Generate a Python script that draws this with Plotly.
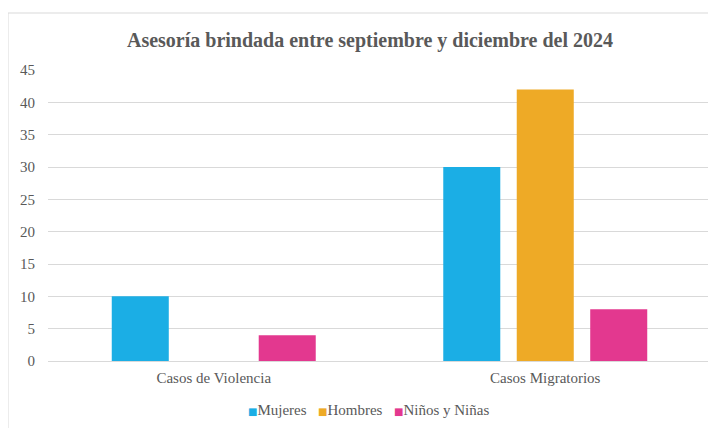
import plotly.graph_objects as go

categories = ["Casos de Violencia", "Casos Migratorios"]
series_names = ["Mujeres", "Hombres", "Niños y Niñas"]
mujeres = [10, 30]
hombres = [0, 42]
ninos = [4, 8]
colors = ["#1BAEE5", "#EEAA26", "#E3388F"]
title_text = "Asesoría brindada entre septiembre y diciembre del 2024"

FONT = "Liberation Serif"
OFF = 8  # browser default body margin
L, T, R_EDGE, B_EDGE = 48 - OFF, 70 - OFF, 711 - OFF, 361 - OFF
W, H = 716, 428
PW, PH = R_EDGE - L, B_EDGE - T

fig = go.Figure()
for name, vals, col in zip(series_names, [mujeres, hombres, ninos], colors):
    fig.add_trace(go.Bar(x=categories, y=vals, name=name, marker_color=col,
                         marker_line_width=0, showlegend=False))

# compact legend (symbol right next to text) as annotations
legend_x = [246, 316, 392]
annotations = []
for name, col, lx in zip(series_names, colors, legend_x):
    annotations.append(dict(
        xref="paper", yref="paper", x=(lx - 48) / PW, y=-(410 - 361) / PH,
        xanchor="left", yanchor="middle", showarrow=False,
        text=f'<span style="color:{col};font-family:DejaVu Sans;font-size:10px">■</span>{name}',
        font=dict(family=FONT, size=15, color="#595959")))

fig.update_layout(
    width=W, height=H,
    margin=dict(l=L, r=W - R_EDGE, t=T, b=H - B_EDGE),
    paper_bgcolor="white", plot_bgcolor="white",
    barmode="group", bargap=0.335, bargroupgap=0.224,
    font=dict(family=FONT, color="#595959", size=13),
    title=dict(text="<b>" + title_text + "</b>", x=(370 - 48) / PW, xref="paper",
               y=1 - (40 - OFF) / H, yref="container", xanchor="center", yanchor="middle",
               font=dict(family=FONT, size=20, color="#595959")),
    showlegend=False,
    annotations=annotations,
    yaxis=dict(range=[0, 45], dtick=5, showgrid=True, gridcolor="#D9D9D9", gridwidth=1,
               zeroline=True, zerolinecolor="#D9D9D9", zerolinewidth=1,
               showline=False, ticks="", ticklabelstandoff=12,
               tickfont=dict(family=FONT, size=15, color="#595959")),
    xaxis=dict(showgrid=False, showline=False, ticks="", ticklabelstandoff=6,
               tickfont=dict(family=FONT, size=15, color="#595959")),
    shapes=[dict(type="rect", xref="paper", yref="paper",
                 x0=(8 - 48) / PW, x1=1.3, y0=-0.5, y1=1 + (70 - 13) / PH,
                 line=dict(color="#D9D9D9", width=1), fillcolor="rgba(0,0,0,0)",
                 layer="below")],
)

fig.write_html("out.html")
